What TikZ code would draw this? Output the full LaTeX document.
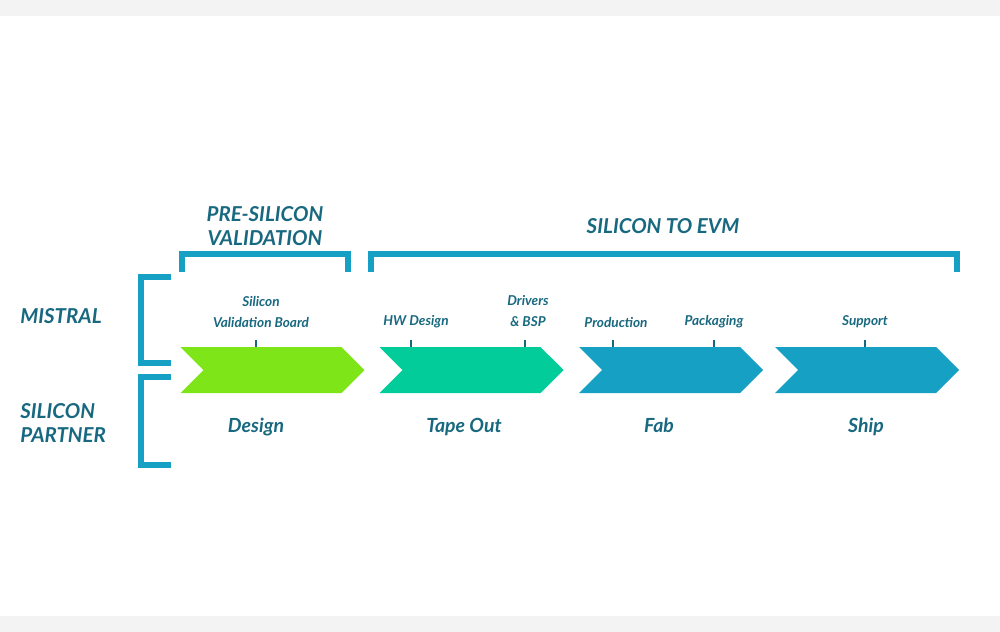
\documentclass[tikz,border=0pt]{standalone}
\usepackage{fontspec}
\setmainfont{Lato}
\usetikzlibrary{shapes.symbols,positioning}
\definecolor{labelteal}  {RGB}{ 24,104,128}
\definecolor{bracketblue}{RGB}{ 22,161,196}
\definecolor{designgreen}{RGB}{126,229, 24}
\definecolor{tapegreen}  {RGB}{  2,204,153}
\definecolor{fabblue}    {RGB}{ 22,161,196}
\definecolor{bandgray}   {RGB}{243,243,243}

\begin{document}
\begin{tikzpicture}[
    x=0.75pt, y=-0.75pt,
    stage/.style={shape=signal, signal from=west, signal to=east, signal pointer angle=90, minimum width=138pt, minimum height=34.5pt, inner sep=0pt, draw=none},
    heading/.style={font=\fontsize{15.4}{18}\selectfont\bfseries\itshape, text=labelteal, align=center, inner sep=0pt},
    phase/.style={font=\fontsize{14.6}{16}\selectfont\bfseries\itshape, text=labelteal, inner sep=0pt, anchor=base},
    task/.style={font=\fontsize{10.2}{15.75}\selectfont\bfseries\itshape, text=labelteal, align=center, inner sep=0pt},
    bracket/.style={draw=bracketblue, line width=4.5pt, line cap=butt, line join=miter},
    tick/.style={draw=labelteal, line width=1.2pt}
]
    \useasboundingbox (0,0) rectangle (1000,632);
    \fill[bandgray] (0,0) rectangle (1000,16);
    \fill[bandgray] (0,616) rectangle (1000,632);

    % --- Stages (chevrons) ---
    \node[stage, fill=designgreen] (design)  at (272.5,370) {};
    \node[stage, fill=tapegreen]   (tapeout) at (471.5,370) {};
    \node[stage, fill=fabblue]     (fab)     at (671,370) {};
    \node[stage, fill=fabblue]     (ship)    at (867,370) {};

    \node[phase] (design_lbl)  at (256,432) {Design};
    \node[phase] (tapeout_lbl) at (464,432) {Tape Out};
    \node[phase] (fab_lbl)     at (659,432) {Fab};
    \node[phase] (ship_lbl)    at (866,432) {Ship};

    % --- Tasks above the stages ---
    \node[task] (svb)      at (261,311.5) {Silicon\\Validation Board};
    \node[task] (hwdesign) at (416,322) {HW Design};
    \node[task] (drivers)  at (528,311.5) {Drivers\\\& BSP};
    \node[task] (prod)     at (616,322) {Production};
    \node[task] (pack)     at (714,322) {Packaging};
    \node[task] (support)  at (865,322) {Support};

    \foreach \tx in {256,411,525,613,714,865}
        \draw[tick] (\tx,340) -- (\tx,347);

    % --- Phase brackets ---
    \draw[bracket] (182,272) -- (182,254) -- (348,254) -- (348,272);
    \draw[bracket] (371,272) -- (371,254) -- (957,254) -- (957,272);
    \node[heading] (presilicon) at (265,226) {PRE-SILICON\\VALIDATION};
    \node[heading] (siltoevm)   at (663,226) {SILICON TO EVM};

    % --- Party brackets ---
    \draw[bracket] (171,277) -- (141,277) -- (141,363) -- (171,363);
    \draw[bracket] (171,377) -- (141,377) -- (141,465) -- (171,465);
    \node[heading, anchor=west] (mistral) at (20,316) {MISTRAL};
    \node[heading, anchor=west, align=left] (partner) at (20,422.5) {SILICON\\PARTNER};

\end{tikzpicture}
\end{document}
